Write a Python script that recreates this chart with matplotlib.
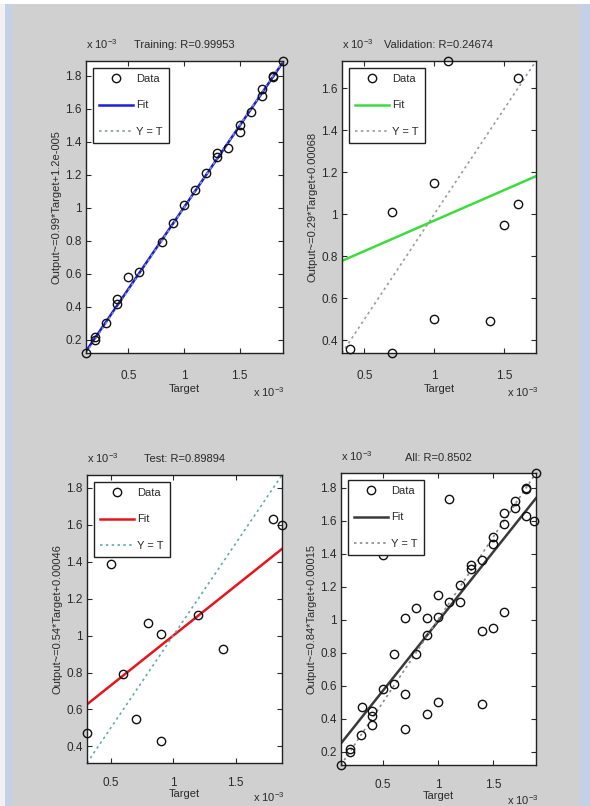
import matplotlib
matplotlib.use('Agg')
import matplotlib.pyplot as plt
from matplotlib.lines import Line2D
from matplotlib.patches import Rectangle
from matplotlib.ticker import FuncFormatter
import numpy as np

plt.rcParams['font.family'] = ['Liberation Sans Narrow', 'Liberation Sans', 'DejaVu Sans']
plt.rcParams['mathtext.fontset'] = 'custom'
plt.rcParams['mathtext.rm'] = 'Liberation Sans'
plt.rcParams['mathtext.it'] = 'Liberation Sans'
plt.rcParams['mathtext.default'] = 'rm'

# ---- data (values in units of 1e-3) ----
train_target = [0.12, 0.2, 0.2, 0.3, 0.4, 0.4, 0.5, 0.6, 0.8, 0.9, 1.0, 1.1, 1.2,
                1.3, 1.3, 1.4, 1.5, 1.5, 1.6, 1.7, 1.7, 1.8, 1.8, 1.89]
train_output = [0.12, 0.22, 0.2, 0.3, 0.45, 0.42, 0.58, 0.61, 0.79, 0.91, 1.02, 1.11, 1.21,
                1.33, 1.31, 1.36, 1.46, 1.5, 1.58, 1.72, 1.68, 1.8, 1.79, 1.89]

val_target = [0.4, 0.7, 0.7, 1.0, 1.0, 1.1, 1.4, 1.5, 1.6, 1.6]
val_output = [0.36, 0.34, 1.01, 1.15, 0.5, 1.73, 0.49, 0.95, 1.05, 1.65]

test_target = [0.31, 0.5, 0.6, 0.7, 0.8, 0.9, 0.9, 1.2, 1.4, 1.8, 1.87]
test_output = [0.47, 1.39, 0.79, 0.55, 1.07, 1.01, 0.43, 1.11, 0.93, 1.63, 1.6]

all_target = train_target + val_target + test_target
all_output = train_output + val_output + test_output

titles = ['Training: R=0.99953', 'Validation: R=0.24674', 'Test: R=0.89894', 'All: R=0.8502']
ylabels = ['Output~=0.99*Target+1.2e-005', 'Output~=0.29*Target+0.00068',
           'Output~=0.54*Target+0.00046', 'Output~=0.84*Target+0.00015']
fit_slope = [0.99, 0.29, 0.54, 0.84]
fit_intercept = [0.012, 0.68, 0.46, 0.15]
fit_colors = ['#1c1ce0', '#3ddc3d', '#e8141c', '#3a3a3a']
yt_colors = ['#8a9a9a', '#9a9aa8', '#6aa8a8', '#8a8a8a']
yticks = [np.arange(0.2, 1.81, 0.2), np.arange(0.4, 1.61, 0.2),
          np.arange(0.4, 1.81, 0.2), np.arange(0.2, 1.81, 0.2)]
xticks = [0.5, 1.0, 1.5]

W, H = 590, 806
fig = plt.figure(figsize=(W / 100, H / 100), dpi=100, facecolor='#d0d0d0')

# page edges of the scan
fig.patches.append(Rectangle((0, 1 - 4 / H), 1, 4 / H, transform=fig.transFigure,
                             facecolor='white', edgecolor='none', zorder=0))
fig.patches.append(Rectangle((0, 0), 5 / W, 1 - 4 / H, transform=fig.transFigure,
                             facecolor='#f4f0f2', edgecolor='none', zorder=0))
fig.patches.append(Rectangle((5 / W, 0), 7 / W, 1 - 4 / H, transform=fig.transFigure,
                             facecolor='#c4d0e6', edgecolor='none', zorder=0))
fig.patches.append(Rectangle((580 / W, 0), 10 / W, 1 - 4 / H, transform=fig.transFigure,
                             facecolor='#c4d0e6', edgecolor='none', zorder=0))

# axes boxes in pixels: left, right, top, bottom
boxes = [(86, 283, 61, 353), (342, 536, 61, 353), (87, 282, 475, 763), (341, 536, 473, 765)]
datasets = [(train_target, train_output), (val_target, val_output),
            (test_target, test_output), (all_target, all_output)]

fmt = FuncFormatter(lambda v, p: ('%g' % round(v, 2)))
fs = 8
tcol = '#2a2a2a'

for i in range(4):
    l, r, t, b = boxes[i]
    ax = fig.add_axes([l / W, 1 - b / H, (r - l) / W, (b - t) / H])
    ax.set_facecolor('white')
    tx, ty = datasets[i]
    lo = min(min(tx), min(ty))
    hi = max(max(tx), max(ty))
    xs = np.array([lo, hi])
    ax.plot(xs, fit_slope[i] * xs + fit_intercept[i], color=fit_colors[i], lw=1.8, zorder=2)
    ax.plot(xs, xs, color=yt_colors[i], lw=1.2, ls=(0, (1.5, 2.0)), zorder=2)
    ax.plot(tx, ty, 'o', mfc='none', mec='#111111', ms=6, mew=1.0, zorder=3, clip_on=False)
    ax.set_xlim(lo, hi)
    ax.set_ylim(lo, hi)
    ax.set_xticks(xticks)
    ax.set_yticks(yticks[i])
    ax.xaxis.set_major_formatter(fmt)
    ax.yaxis.set_major_formatter(fmt)
    ax.tick_params(direction='in', top=True, right=True, length=3.5, width=0.8,
                   labelsize=8.5, colors=tcol, pad=3)
    bottom_row = i >= 2
    ax.tick_params(axis='x', pad=10 if bottom_row else 12)
    for s in ax.spines.values():
        s.set_color('#222222')
        s.set_linewidth(1.0)
    ax.set_title(titles[i], fontsize=fs, color=tcol, pad=9)
    ax.set_ylabel(ylabels[i], fontsize=fs, color=tcol, labelpad=3)
    ax.set_xlabel('Target', fontsize=fs, color=tcol, labelpad=0 if bottom_row else 2)
    ax.text(0.0, 1.035, r'x 10$^{-3}$', transform=ax.transAxes, fontsize=fs,
            color=tcol, ha='left', va='bottom')
    ax.text(0.85, -0.095 if bottom_row else -0.11, r'x 10$^{-3}$', transform=ax.transAxes,
            fontsize=fs, color=tcol, ha='left', va='top')
    handles = [Line2D([], [], ls='none', marker='o', mfc='none', mec='#111111', ms=6, mew=1.0),
               Line2D([], [], color=fit_colors[i], lw=1.8),
               Line2D([], [], color=yt_colors[i], lw=1.2, ls=(0, (1.5, 2.0)))]
    leg = ax.legend(handles, ['Data', 'Fit', 'Y = T'], loc='upper left', fontsize=fs,
                    frameon=True, fancybox=False, edgecolor='#222222', framealpha=1,
                    borderaxespad=0.6, handlelength=3.0, labelspacing=1.45,
                    handletextpad=0.3, borderpad=0.6, numpoints=1)
    leg.get_frame().set_linewidth(1.0)
    for txt in leg.get_texts():
        txt.set_color(tcol)

fig.savefig('out.png', dpi=100, facecolor=fig.get_facecolor())
